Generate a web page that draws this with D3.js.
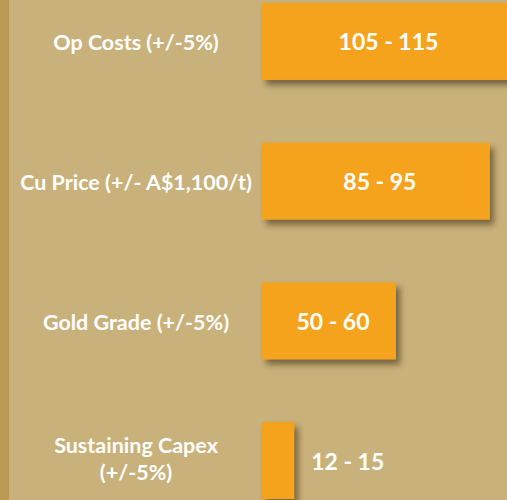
<!DOCTYPE html>
<html>
<head>
<meta charset="utf-8">
<script src="https://cdn.jsdelivr.net/npm/d3@7"></script>
<style>
  html, body { margin: 0; padding: 0; background: #C9B17B; }
  svg { display: block; }
  text { font-family: Lato, "Open Sans", sans-serif; font-weight: bold; fill: #fff; }
</style>
</head>
<body>
<div id="chart"></div>
<script>
// sensitivity ranges (A$M)
const categories = ["Op Costs (+/-5%)", "Cu Price (+/- A$1,100/t)", "Gold Grade (+/-5%)", "Sustaining Capex|(+/-5%)"];
const lowValues = [105, 85, 50, 12];
const highValues = [115, 95, 60, 15];

const rows = categories.map((c, i) => ({ label: c, low: lowValues[i], high: highValues[i] }));

const W = 507, H = 500;
const barLeft = 262, labelX = 136;

const svg = d3.select("#chart").append("svg")
  .attr("width", W).attr("height", H)
  .attr("viewBox", `0 0 ${W} ${H}`);

const defs = svg.append("defs");
defs.append("filter").attr("id", "shadow")
  .attr("x", "-20%").attr("y", "-20%").attr("width", "150%").attr("height", "150%")
  .append("feDropShadow")
  .attr("dx", 4).attr("dy", 5).attr("stdDeviation", 3)
  .attr("flood-color", "#3b2f12").attr("flood-opacity", 0.6);

svg.append("rect").attr("width", W).attr("height", H).attr("fill", "#C9B17B");
svg.append("rect").attr("width", 9).attr("height", H).attr("fill", "#B99953");

const y = d3.scaleBand().domain(categories).range([3, 499])
  .paddingInner(0.449).paddingOuter(0);
const x = d3.scaleLinear().domain([0, 100]).range([0, 268]);

const g = svg.append("g");

g.selectAll("rect.bar").data(rows).join("rect").attr("class", "bar")
  .attr("x", barLeft)
  .attr("y", d => y(d.label))
  .attr("width", d => x(d.low))
  .attr("height", y.bandwidth())
  .attr("fill", "#F5A31E")
  .attr("filter", "url(#shadow)");

// category labels, split on "|" for two-line labels
g.selectAll("text.cat").data(rows).join("text").attr("class", "cat")
  .attr("x", labelX)
  .attr("text-anchor", "middle")
  .style("font-size", "21.5px")
  .each(function (d) {
    const lines = d.label.split("|");
    const cy = y(d.label) + y.bandwidth() / 2;
    const t = d3.select(this);
    lines.forEach((ln, i) => {
      t.append("tspan")
        .attr("x", labelX)
        .attr("y", lines.length > 1 ? cy - 7.5 + i * 27 : cy + 9)
        .text(ln);
    });
  });

// value labels: centred on the visible part of the bar when it fits,
// else just to its right
const fits = d => x(d.low) > 80;
g.selectAll("text.val").data(rows).join("text").attr("class", "val")
  .style("font-size", "23px")
  .attr("y", d => y(d.label) + y.bandwidth() / 2 + 9)
  .attr("x", d => fits(d)
    ? (barLeft + Math.min(barLeft + x(d.low), W)) / 2 + 4
    : barLeft + x(d.low) + 17)
  .attr("text-anchor", d => fits(d) ? "middle" : "start")
  .text(d => `${d.low} - ${d.high}`);
</script>
</body>
</html>
